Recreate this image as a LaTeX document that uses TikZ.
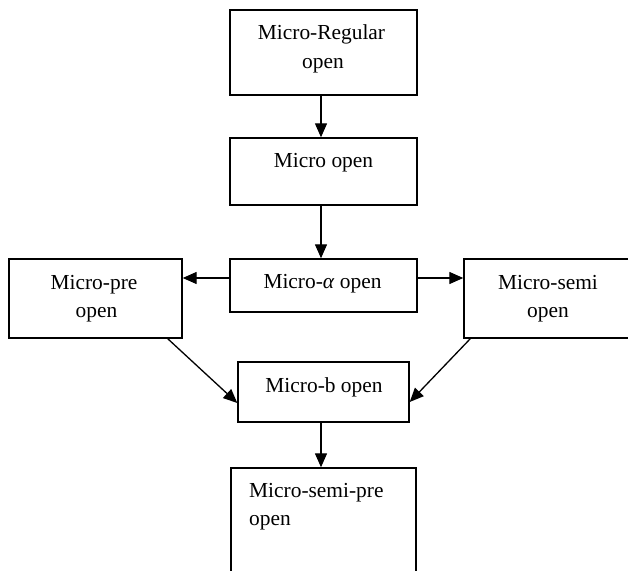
\documentclass[tikz,border=0pt]{standalone}
\usepackage{fontspec}
\setmainfont{Liberation Serif}
\usetikzlibrary{arrows.meta}
\begin{document}
\begin{tikzpicture}[x=1bp,y=-1bp,
  box/.style={draw,line width=1.4bp,rectangle,inner sep=0pt},
  lbl/.style={anchor=base,inner sep=0pt,font=\fontsize{21.4bp}{30bp}\selectfont},
  arr/.style={line width=1.3bp,-{Triangle[length=14bp,width=12bp]}}]
\useasboundingbox (0,0) rectangle (628,571);
% boxes
\node[box,minimum width=187bp,minimum height=85bp] (b1) at (323.5,52.5) {};
\node[box,minimum width=187bp,minimum height=67bp] (b2) at (323.5,171.5) {};
\node[box,minimum width=187bp,minimum height=53bp] (al) at (323.5,285.5) {};
\node[box,minimum width=173bp,minimum height=79bp] (pre) at (95.5,298.5) {};
\node[box,minimum width=168bp,minimum height=79bp] (semi) at (548,298.5) {};
\node[box,minimum width=171bp,minimum height=60bp] (mb) at (323.5,392) {};
\node[box,minimum width=185bp,minimum height=140bp] (sp) at (323.5,538) {};
% texts
\node[lbl] (t1a) at (321.5,40) {Micro-Regular};
\node[lbl] (t1b) at (323,69) {open};
\node[lbl] (t2) at (323.5,168) {Micro open};
\node[lbl] (t3) at (322.5,288) {Micro-\textit{α} open};
\node[lbl] (t4a) at (94,289) {Micro-pre};
\node[lbl] (t4b) at (96.5,317) {open};
\node[lbl] (t5a) at (548,289) {Micro-semi};
\node[lbl] (t5b) at (548,317) {open};
\node[lbl] (t6) at (324,392) {Micro-b open};
\node[lbl,anchor=base west] (t7a) at (249,497) {Micro-semi-pre};
\node[lbl,anchor=base west] (t7b) at (249,525) {open};
% connectors
\draw[arr] ([xshift=-2.5bp]b1.south) -- ([xshift=-2.5bp]b2.north);
\draw[arr] ([xshift=-2.5bp]b2.south) -- ([xshift=-2.5bp]al.north);
\draw[arr] ([yshift=7.5bp]al.west) coordinate (aw) -- (aw -| pre.east);
\draw[arr] ([yshift=7.5bp]al.east) coordinate (ae) -- (ae -| semi.west);
\draw[arr] ([xshift=-15bp]pre.south east) -- ([yshift=-11bp]mb.west);
\draw[arr] ([xshift=7bp]semi.south west) -- ([yshift=-10bp]mb.east);
\draw[arr] ([xshift=-2.5bp]mb.south) -- ([xshift=-2.5bp]sp.north);
\end{tikzpicture}
\end{document}
